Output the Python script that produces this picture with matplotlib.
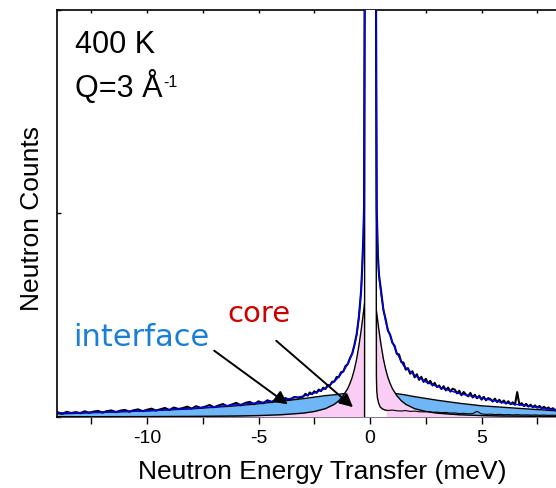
import numpy as np
import matplotlib
matplotlib.use('Agg')
import matplotlib.pyplot as plt

plt.rcParams['font.family'] = ['Liberation Sans', 'DejaVu Sans']
plt.rcParams['axes.unicode_minus'] = False

# measured spectrum, energy transfer in meV
e_left = np.round(np.arange(-14.0, -3.1, 0.2), 2)
cnt_left = [4.6, 3.2, 5.1, 3.9, 4.8, 3.7, 5.6, 4.2, 5.3, 6.0, 4.3, 5.8, 6.4, 4.9,
            6.2, 7.0, 5.2, 6.6, 7.5, 5.7, 7.1, 8.2, 6.3, 7.6, 8.9, 6.9, 9.3, 7.9,
            8.7, 10.2, 8.2, 10.6, 9.0, 10.1, 11.8, 9.6, 11.3, 12.7, 10.6, 12.2,
            13.9, 11.5, 13.8, 14.9, 12.6, 15.4, 13.5, 16.4, 14.6, 17.5, 15.9,
            18.6, 16.8, 19.7, 18.8]
e_mid_l = np.round(np.arange(-3.0, -0.35, 0.1), 2)
cnt_mid_l = [20.0, 22.8, 21.0, 24.1, 22.4, 25.3, 23.7, 27.0, 25.4, 28.8, 27.6,
             31.4, 30.9, 34.6, 34.8, 39.2, 39.3, 44.0, 44.6, 50.1, 52.0, 57.9,
             62.3, 71.0, 81.2, 98.5, 124.0]
e_peak = [-0.35, -0.3, -0.27, -0.24, -0.2, -0.1, 0.0, 0.1, 0.2, 0.24, 0.27, 0.3, 0.35]
cnt_peak = [148, 178, 205, 430, 1000, 2600, 3300, 2800, 1200, 560, 400, 205, 160]
e_mid_r = np.round(np.arange(0.4, 3.05, 0.1), 2)
cnt_mid_r = [140, 123, 105, 96, 85, 81, 73, 70, 62, 61.5, 54, 53.5, 46.5, 48,
             42.5, 45, 39, 42, 36.5, 39.5, 34.5, 37.5, 33, 35.5, 31, 33.5, 29.5]
e_right = np.round(np.arange(3.1, 8.45, 0.1), 2)
cnt_right = [31.0, 27.5, 30.2, 26.1, 28.9, 25.0, 27.8, 26.9, 23.2,
             25.8, 21.4, 24.6, 22.0, 20.3, 23.7, 19.2, 21.8, 18.4, 20.9,
             17.1, 19.8, 16.4, 18.5, 17.6, 15.2, 18.0, 14.6, 16.9, 13.9,
             16.2, 13.1, 15.5, 12.6, 14.4, 12.0, 24.5, 11.8, 13.6, 10.7,
             12.9, 10.2, 12.1, 9.6, 11.4, 9.1, 10.8, 8.6, 10.0, 8.1,
             9.3, 7.4, 8.6, 6.8, 7.6]

# total fit
e_fit = [-14, -12, -10, -8, -7, -6, -5, -4, -3, -2.5, -2, -1.5, -1.2, -1.0, -0.8,
         -0.7, -0.6, -0.5, -0.4, -0.35, -0.3, -0.27, -0.24, -0.2, -0.1, 0, 0.1,
         0.2, 0.24, 0.27, 0.3, 0.35, 0.4, 0.5, 0.6, 0.7, 0.8, 1.0, 1.2, 1.5, 2.0,
         2.5, 3, 4, 5, 6, 7, 8.4]
fit = [4, 4.8, 6, 8.5, 10, 12, 14, 16.5, 20.5, 23.5, 28, 37, 45, 52, 62, 70, 81,
       97, 123, 147, 176, 203, 425, 990, 2580, 3280, 2780, 1190, 555, 396, 203,
       158, 138, 120, 106, 94, 86, 74, 63, 50.5, 41, 34.5, 30, 23, 18.5, 14, 11,
       6.5]

# broad quasielastic component (interface)
e_int = [-14, -12, -10, -8, -7, -6, -5, -4, -3, -2, -1.5, -1, -0.5, 0, 0.5, 1,
         1.5, 2, 3, 4, 5, 6, 7, 8.4]
interface = [3, 4.5, 6, 8, 9.5, 11, 13, 15.5, 18, 21, 22, 23.5, 24.5, 25, 24.5,
             23.5, 22, 20, 16.5, 13.5, 11, 9.5, 8, 6]

# narrow quasielastic component (core)
e_core = [-14, -10, -8, -6, -5, -4, -3, -2.5, -2, -1.6, -1.4, -1.2, -1.0, -0.9,
          -0.8, -0.7, -0.6, -0.5, -0.4, -0.3, -0.2, 0, 0.2, 0.3, 0.4, 0.5, 0.6,
          0.7, 0.8, 0.9, 1.0, 1.2, 1.4, 1.6, 2, 2.5, 3, 4, 5, 6, 8.4]
core = [0.2, 0.4, 0.6, 1.0, 1.4, 2.2, 3.8, 5.4, 8.2, 12.5, 16, 21, 28, 33, 39, 47,
        57, 70, 85, 102, 120, 140, 120, 102, 85, 70, 57, 47, 39, 33, 28, 21, 16,
        12.5, 8.2, 5.4, 3.8, 2.2, 1.4, 1.0, 0.5]

# elastic line
e_el = [-0.245, -0.24, -0.2, -0.1, 0, 0.1, 0.2, 0.26, 0.275, 0.28, 0.285, 0.3,
        0.33, 0.38, 0.45, 0.55, 0.65, 0.75]
elastic = [0, 420, 980, 2550, 3250, 2750, 1150, 700, 380, 120, 40, 26, 19, 14,
           10, 8, 7, 6.5]
# resolution tail on the energy-loss side
e_res = np.round(np.arange(0.8, 8.45, 0.2), 2)
res = [6.4, 6.8, 6.1, 5.9, 6.3, 5.5, 5.8, 5.2, 5.0, 5.4, 4.6, 4.8, 4.2, 4.5, 3.8,
       4.0, 3.4, 3.6, 3.1, 3.3, 5.6, 3.0, 2.6, 2.8, 2.4, 2.6, 2.2, 2.4, 2.0, 2.3,
       1.9, 2.1, 1.8, 2.0, 1.7, 1.9, 1.6, 1.8, 1.5]

energy = np.concatenate([e_left, e_mid_l, e_peak, e_mid_r, e_right])
counts = np.concatenate([cnt_left, cnt_mid_l, cnt_peak, cnt_mid_r, cnt_right])

fig = plt.figure(figsize=(5.56, 4.89), dpi=100)
ax = fig.add_axes([0.1025, 0.1452, 0.8975, 0.8323])

ax.fill_between(e_int, 0, interface, color='#6fb6f7', lw=0, zorder=1)
ax.plot(e_int, interface, color='k', lw=1.0, zorder=2)
ax.fill_between(e_core, 0, core, color='#f9cdf4', lw=0, zorder=3)
ax.plot(e_core, core, color='k', lw=1.0, zorder=4)
ax.fill_between(e_el, 0, elastic, color='white', lw=0, zorder=5)
ax.plot(e_el, elastic, color='k', lw=1.0, zorder=6)
ax.plot(e_res, res, color='k', lw=0.8, zorder=6)

ax.plot(energy, counts, color='k', lw=1.5, zorder=7)
ax.plot(e_fit, fit, color='#0000ff', lw=1.0, zorder=8)

ax.annotate('', xy=(-3.59, 10.8), xytext=(-7.09, 66.8),
            arrowprops=dict(arrowstyle='-|>', color='k', lw=1.4, mutation_scale=20),
            zorder=9)
ax.annotate('', xy=(-0.67, 7.9), xytext=(-4.30, 76.7),
            arrowprops=dict(arrowstyle='-|>', color='k', lw=1.4, mutation_scale=20),
            zorder=9)
ax.text(-13.32, 71, 'interface', color='#1a7fd4', fontsize=22,
        family='DejaVu Sans', ha='left', va='baseline', zorder=10)
ax.text(-6.41, 94, 'core', color='#cc0000', fontsize=21,
        family='DejaVu Sans', ha='left', va='baseline', zorder=10)

ax.text(0.036, 0.897, '400 K', transform=ax.transAxes, fontsize=22, va='baseline')
ax.text(0.036, 0.789, 'Q=3 Å', transform=ax.transAxes, fontsize=22, va='baseline')
ax.text(0.2124, 0.8133, '-1', transform=ax.transAxes, fontsize=11.5, va='baseline')

ax.set_xlim(-14.04, 8.34)
ax.set_ylim(0, 400)
ax.set_xticks([-10, -5, 0, 5])
ax.set_xticks([-12.5, -7.5, -2.5, 2.5, 7.5], minor=True)
ax.set_yticks([0, 200, 400])
ax.set_yticklabels([])
ax.tick_params(axis='x', which='both', direction='out', length=5, width=1.0,
               labelsize=14, top=False)
ax.tick_params(axis='y', direction='in', length=3, width=1.0)
ax.spines['right'].set_visible(False)
for side in ['left', 'top', 'bottom']:
    ax.spines[side].set_linewidth(1.2)

# small inward marks along the top edge
sec = ax.secondary_xaxis('top')
sec.set_xticks([-12.5, -10, -7.5, -5, -2.5, 0, 2.5, 5, 7.5])
sec.tick_params(direction='in', length=2.5, width=1.0, labeltop=False)
sec.spines['top'].set_visible(False)

ax.set_xlabel('Neutron Energy Transfer (meV)', fontsize=19)
ax.xaxis.set_label_coords((322 - 57) / 499, -0.103)
ax.set_ylabel('Neutron Counts', fontsize=19)
ax.yaxis.set_label_coords(-0.026, 0.49)

fig.savefig('out.png', dpi=100)
